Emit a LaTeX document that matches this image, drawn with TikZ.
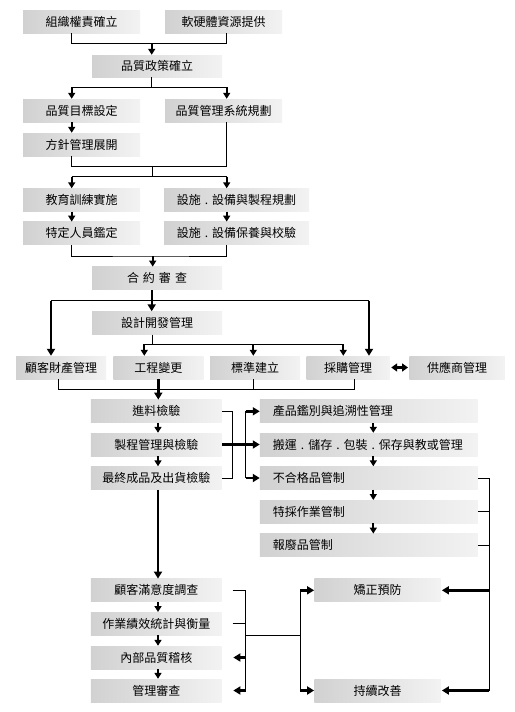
\documentclass[tikz,border=0pt]{standalone}
\usepackage{fontspec}
\newfontfamily\cjk{Noto Sans CJK TC}
\usetikzlibrary{arrows.meta,calc}
\newcommand{\sdot}{\hspace{4pt}.\hspace{4pt}}
\tikzset{
  box/.style={shape=rectangle, draw=none, left color=black!18, right color=black!5,
    minimum height=23pt, inner sep=0pt, font=\cjk\fontsize{12}{14}\selectfont, text=black},
  lbox/.style={box, minimum width=217.7pt, text width=191.7pt, align=left, inner xsep=13pt},
  ln/.style={line width=1pt, draw=black},
  ar/.style={line width=1.8pt, draw=black, -{Triangle[width=7pt,length=6pt]}},
  tar/.style={line width=2.4pt, draw=black, -{Triangle[width=8pt,length=7pt]}},
  dar/.style={line width=2.4pt, draw=black, {Triangle[width=8pt,length=6pt]}-{Triangle[width=8pt,length=6pt]}},
}
\begin{document}
\begin{tikzpicture}[x=1pt,y=-1pt]
\fill[white] (0,0) rectangle (514,712);
\useasboundingbox (0,0) rectangle (514,712);
% nodes
\node[box,minimum width=117pt] (org) at (81.5,21.5) {組織權責確立};
\node[box,minimum width=117pt] (res) at (223.5,21.5) {軟硬體資源提供};
\node[box,minimum width=130pt,minimum height=22pt] (pol) at (157,66) {品質政策確立};
\node[box,minimum width=117pt] (obj) at (81.5,110.5) {品質目標設定};
\node[box,minimum width=117pt] (qms) at (223.5,110.5) {品質管理系統規劃};
\node[box,minimum width=117pt] (dep) at (81.5,144.5) {方針管理展開};
\node[box,minimum width=117pt] (edu) at (81.5,200) {教育訓練實施};
\node[box,minimum width=145pt] (fac) at (236.5,200) {設施\sdot 設備與製程規劃};
\node[box,minimum width=117pt] (per) at (81.5,233.3) {特定人員鑑定};
\node[box,minimum width=145pt] (mnt) at (236.5,233.3) {設施\sdot 設備保養與校驗};
\node[box,minimum width=130pt] (con) at (157,278.3) {合\hspace{4pt}約\hspace{4pt}審\hspace{4pt}查};
\node[box,minimum width=130pt] (des) at (157,323) {設計開發管理};
\node[box,minimum width=90pt] (cus) at (61,367.5) {顧客財產管理};
\node[box,minimum width=90pt] (eng) at (158.3,367.5) {工程變更};
\node[box,minimum width=90pt] (std) at (255,367.5) {標準建立};
\node[box,minimum width=83pt] (pur) at (348,367.5) {採購管理};
\node[box,minimum width=95.5pt] (sup) at (457,367.5) {供應商管理};
\node[box,minimum width=130.7pt] (inc) at (156.3,411.3) {進料檢驗};
\node[box,minimum width=130.7pt] (prc) at (156.3,444.5) {製程管理與檢驗};
\node[box,minimum width=130.7pt] (fin) at (156.3,478) {最終成品及出貨檢驗};
\node[lbox] (idt) at (368.8,411.3) {產品鑑別與追溯性管理};
\node[lbox] (hnd) at (368.8,444.5) {搬運\sdot 儲存\sdot 包裝\sdot 保存與教或管理};
\node[lbox] (ncp) at (368.8,478) {不合格品管制};
\node[lbox] (spc) at (368.8,511.7) {特採作業管制};
\node[lbox] (scr) at (368.8,545.3) {報廢品管制};
\node[box,minimum width=130.7pt] (sat) at (156.3,590.3) {顧客滿意度調查};
\node[box,minimum width=130.7pt] (kpi) at (156.3,623.7) {作業績效統計與衡量};
\node[box,minimum width=130.7pt] (aud) at (156.3,657.5) {內部品質稽核};
\node[box,minimum width=130.7pt] (mrv) at (156.3,690.5) {管理審查};
\node[box,minimum width=126.4pt] (cap) at (377.5,590.3) {矯正預防};
\node[box,minimum width=126.4pt] (imp) at (377.5,690.5) {持續改善};
% column coordinates
\coordinate (xL) at (71.7,0);
\coordinate (xR) at (226.7,0);
\coordinate (j1) at (151.7,43.3);
\coordinate (j2) at (151.7,87.3);
\coordinate (j3) at (152.7,166.7);
\coordinate (j4) at (152.7,176.7);
\coordinate (j5) at (152.7,256);
\coordinate (j6) at (151.7,300.7);
\coordinate (j7) at (152.7,344);
\coordinate (j8) at (158.3,389.3);
\coordinate (xa) at (51,0);
\coordinate (xb) at (369,0);
\coordinate (x1) at (144.3,0);
\coordinate (x2) at (253.3,0);
\coordinate (x3) at (343.3,0);
\coordinate (y1) at (58.3,0);
\coordinate (y3) at (354.3,0);
\coordinate (xM) at (158,0);
\coordinate (k1) at (232.3,440);
\coordinate (k3) at (245.7,0);
\coordinate (xr) at (373.3,0);
\coordinate (xe) at (489,0);
\coordinate (m0) at (232.7,0);
\coordinate (m1) at (245.7,0);
\coordinate (m2) at (300,0);
\coordinate (m3) at (245.7,635.7);
% top section
\draw[ln] (xL |- org.south) |- (j1) -| (xR |- res.south);
\draw[ar] (j1) -- (j1 |- pol.north);
\draw[ln] (j2 |- pol.south) -- (j2);
\draw[ln] (xL |- j2) -- (xR |- j2);
\draw[ar] (xL |- j2) -- (xL |- obj.north);
\draw[ar] (xR |- j2) -- (xR |- qms.north);
\draw[ar] (xL |- obj.south) -- (xL |- dep.north);
\draw[ln] (xL |- dep.south) |- (j3) -| (xR |- qms.south);
\draw[ln] (j3) -- (j4);
\draw[ln] (xL |- j4) -- (xR |- j4);
\draw[ar] (xL |- j4) -- (xL |- edu.north);
\draw[ar] (xR |- j4) -- (xR |- fac.north);
\draw[ar] (xL |- edu.south) -- (xL |- per.north);
\draw[ar] (xR |- fac.south) -- (xR |- mnt.north);
\draw[ln] (xL |- per.south) |- (j5) -| (xR |- mnt.south);
\draw[ar] (j5) -- (j5 |- con.north);
% contract review
\draw[tar] (j6 |- con.south) -- (j6 |- des.north);
\draw[ln] (xa |- j6) -- (xb |- j6);
\draw[tar] (xa |- j6) -- (xa |- cus.north);
\draw[tar] (xb |- j6) -- (xb |- pur.north);
\draw[ln] (j7 |- des.south) -- (j7);
\draw[ln] (x1 |- j7) -- (x3 |- j7);
\draw[ar] (x1 |- j7) -- (x1 |- eng.north);
\draw[ar] (x2 |- j7) -- (x2 |- std.north);
\draw[ar] (x3 |- j7) -- (x3 |- pur.north);
\draw[dar] ([xshift=1.5pt]pur.east) -- ([xshift=-1pt]sup.west);
\draw[ln] (y1 |- cus.south) |- (y3 |- j8) -- (y3 |- pur.south);
\draw[ln] (x2 |- std.south) -- (x2 |- j8);
\draw[tar] (j8 |- eng.south) -- (j8 |- inc.north);
% inspection
\draw[ar] (xM |- inc.south) -- (xM |- prc.north);
\draw[ar] (xM |- prc.south) -- (xM |- fin.north);
\draw[ln] (inc.east) -| (k1) |- (fin.east);
\draw[tar] (prc.east) -- (hnd.west);
\draw[ln] (k3 |- idt.west) -- (k3 |- ncp.west);
\draw[tar] (k3 |- idt.west) -- (idt.west);
\draw[tar] (k3 |- ncp.west) -- (ncp.west);
\draw[ar] (xr |- idt.south) -- (xr |- hnd.north);
\draw[ar] (xr |- hnd.south) -- (xr |- ncp.north);
\draw[ar] (xr |- ncp.south) -- (xr |- spc.north);
\draw[ar] (xr |- spc.south) -- (xr |- scr.north);
\draw[ln] (ncp.east) -- (xe |- ncp.east);
\draw[ln] (spc.east) -- (xe |- spc.east);
\draw[ln] (scr.east) -- (xe |- scr.east);
\draw[ln] (xe |- ncp.east) -- (xe |- imp.east);
\draw[tar] (xe |- cap.east) -- ([xshift=1pt]cap.east);
\draw[tar] (xe |- imp.east) -- ([xshift=1pt]imp.east);
% bottom section
\draw[tar] (xM |- fin.south) -- (xM |- sat.north);
\draw[ar] (xM |- sat.south) -- (xM |- kpi.north);
\draw[ar] (xM |- kpi.south) -- (xM |- aud.north);
\draw[ar] (xM |- aud.south) -- (xM |- mrv.north);
\draw[ln] (m0 |- sat.east) -- (m1 |- sat.east);
\draw[ln] (m0 |- kpi.east) -- (m1 |- kpi.east);
\draw[ln] (m1 |- sat.east) -- (m1 |- mrv.east);
\draw[tar] (m1 |- aud.east) -- ([xshift=11.5pt]aud.east);
\draw[tar] (m1 |- mrv.east) -- ([xshift=11.5pt]mrv.east);
\draw[ln] (m3) -- (m2 |- m3);
\draw[ln] (m2 |- cap.west) -- (m2 |- imp.west);
\draw[tar] (m2 |- cap.west) -- (cap.west);
\draw[tar] (m2 |- imp.west) -- (imp.west);
\end{tikzpicture}
\end{document}
